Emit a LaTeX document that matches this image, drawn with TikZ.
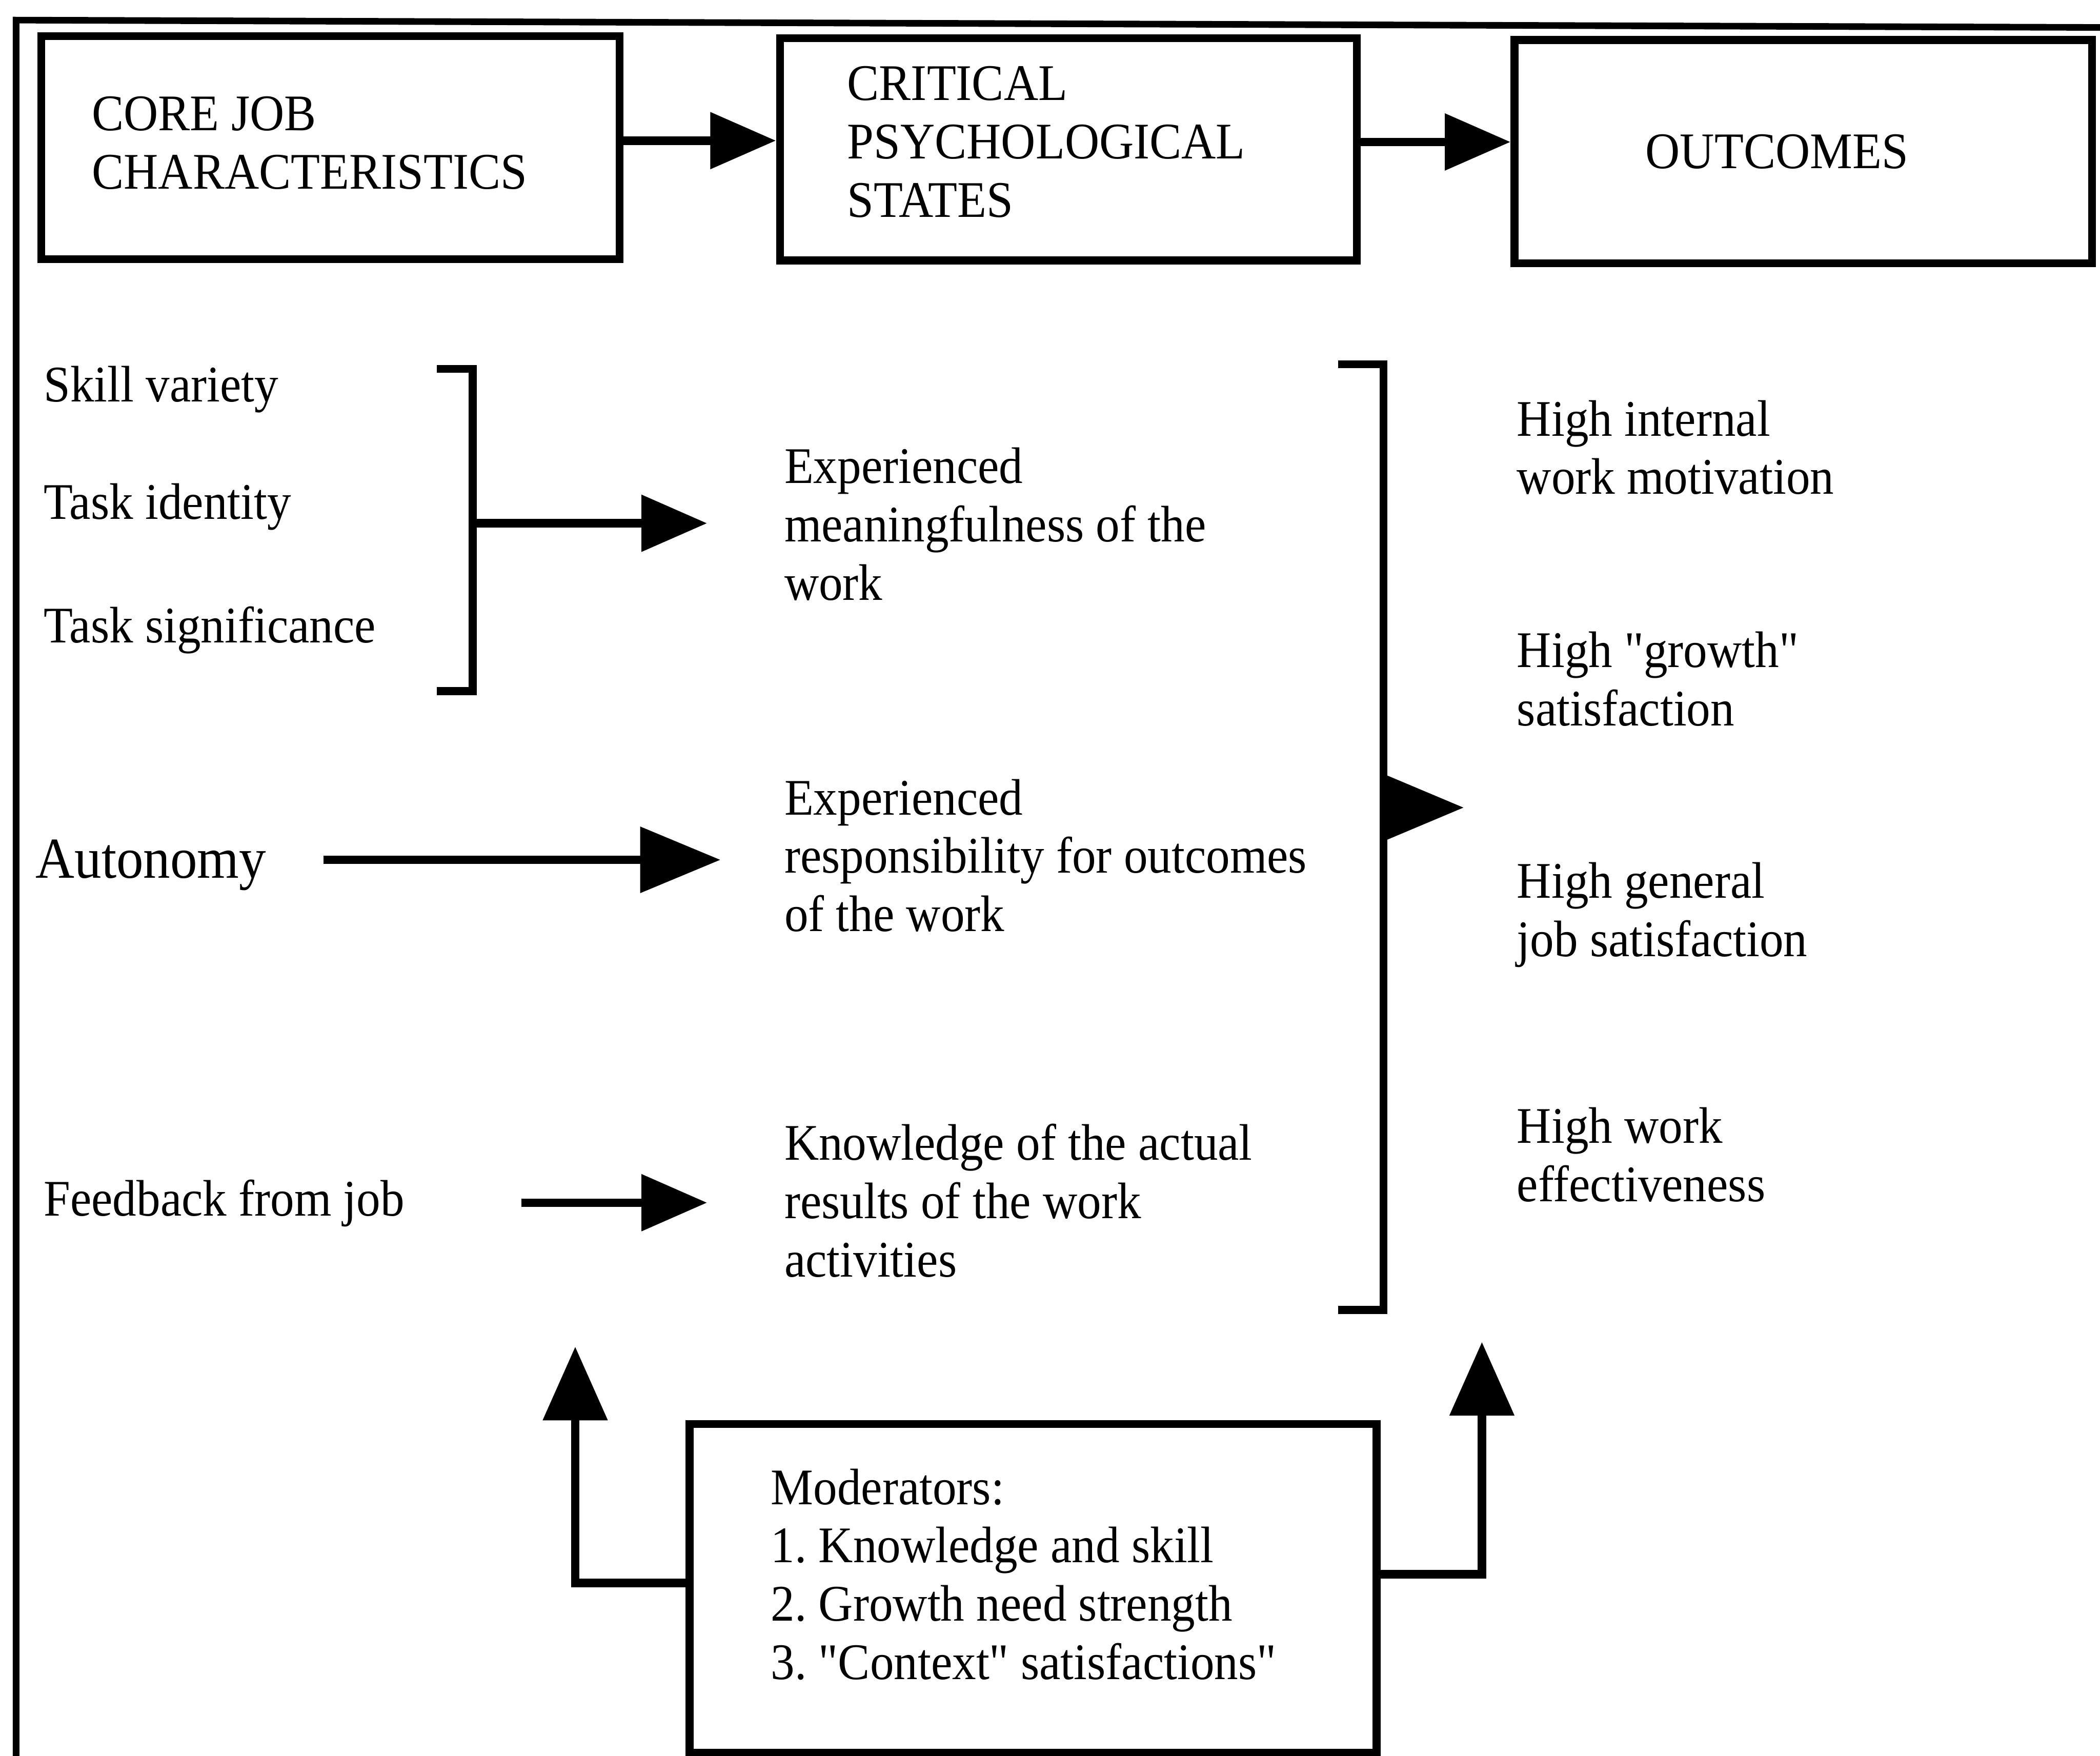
\documentclass[tikz,border=0pt]{standalone}
\usepackage{fontspec}
\setmainfont{Liberation Serif}[FakeStretch=0.93, Ligatures=TeXOff]
\usetikzlibrary{arrows.meta,calc}

\begin{document}
\frenchspacing
\begin{tikzpicture}[x=0.01cm, y=-0.01cm,
  % multi-line labels are placed by the baseline of their last line
  lbl/.style={inner sep=0pt, anchor=base west, align=left,
              font=\fontsize{10.9}{12.4}\selectfont},
  boxnode/.style={draw, line width=1.7pt, inner sep=0pt},
  rule/.style={line width=1.7pt},
  conn/.style={line width=1.8pt},
  headS/.style={-{Triangle[length=0.49cm,width=0.41cm]}},
  headM/.style={-{Triangle[length=0.55cm,width=0.47cm]}},
  headL/.style={-{Triangle[length=0.57cm,width=0.46cm]}},
]
\useasboundingbox (0,0) rectangle (1568,1310.8);

% outer frame, open on the right and at the bottom
\draw[line width=1.4pt] (12,1312) -- (12,15) -- (1568,20.5);

% header boxes
\node[boxnode, minimum width=4.315cm, minimum height=1.665cm] (b1) at (246.75,110.25) {};
\node[boxnode, minimum width=4.305cm, minimum height=1.66cm]  (b2) at (797.75,111.5) {};
\node[boxnode, minimum width=4.31cm,  minimum height=1.665cm] (b3) at (1346.5,113.25) {};
\node[lbl] (b1t) at (68,141)     {CORE JOB\\CHARACTERISTICS};
\node[lbl] (b2t) at (632,162)    {CRITICAL\\PSYCHOLOGICAL\\STATES};
\node[lbl] (b3t) at (1228,125.7) {OUTCOMES};

\draw[conn,headS] ($(b1.east)+(0,-5.25)$) coordinate (a1) -- (a1 -| b2.west);
\draw[conn,headS] ($(b2.east)+(0,-5.5)$)  coordinate (a2) -- (a2 -| b3.west);

% core job characteristics
\node[lbl] (sv) at (32,300)   {Skill variety};
\node[lbl] (ti) at (32,387.5) {Task identity};
\node[lbl] (ts) at (32,480)   {Task significance};
\node[lbl, font=\fontsize{12.3}{14}\selectfont] (au) at (26,655.7) {Autonomy};
\node[lbl] (fb) at (32,908)   {Feedback from job};

\draw[rule] (326,275.5) -- (353,275.5) -- (353,516) -- (326,516);
\coordinate (br1) at (353,390.7);
\coordinate (m1in) at (528,390.7);
\draw[conn,headS] (br1) -- (m1in);

\coordinate (auS) at (241.6,642);
\coordinate (m2in) at (538,642);
\draw[conn,-{Triangle[length=0.6cm,width=0.48cm]}] (auS) -- (m2in);

\coordinate (fbS) at (389.5,898);
\coordinate (m3in) at (528,898);
\draw[conn,headS] (fbS) -- (m3in);

% critical psychological states
\node[lbl] (m1) at (585,448)   {Experienced\\meaningfulness of the\\work};
\node[lbl] (m2) at (585,695.5) {Experienced\\responsibility for outcomes\\of the work};
\node[lbl] (m3) at (585,953.5) {Knowledge of the actual\\results of the work\\activities};

\draw[rule] (999,272) -- (1033,272) -- (1033,978) -- (999,978);
\coordinate (br2) at (1033,603);
\coordinate (outin) at (1093,603);
\draw[conn,headL] (br2) -- (outin);

% outcomes
\node[lbl] (o1) at (1132,369) {High internal\\work motivation};
\node[lbl] (o2) at (1132,542) {High "growth"\\satisfaction};
\node[lbl] (o3) at (1132,714) {High general\\job satisfaction};
\node[lbl] (o4) at (1132,897) {High work\\effectiveness};

% moderators
\node[boxnode, minimum width=5.127cm, minimum height=2.452cm] (mod) at (771.35,1185.9) {};
\node[lbl] (modt) at (575,1254) {Moderators:\\1. Knowledge and skill\\2. Growth need strength\\3. "Context" satisfactions"};

\coordinate (upL) at (429.5,1005.5);
\coordinate (upR) at (1106.5,1002);
\draw[conn,headM] ($(mod.west)+(0,-3.9)$) -| (upL);
\draw[conn,headM] ($(mod.east)+(0,-10.5)$) -| (upR);
\end{tikzpicture}
\end{document}
